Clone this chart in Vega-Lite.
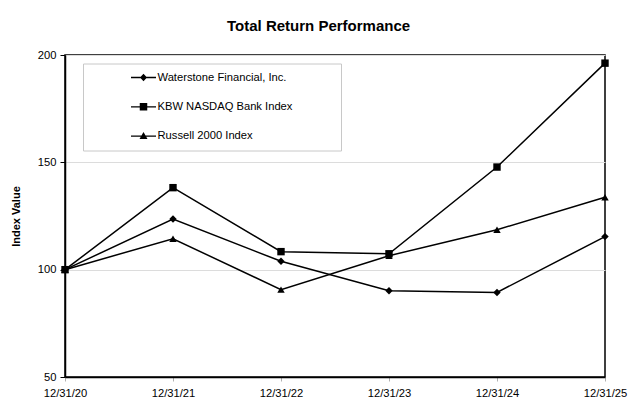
{
  "$schema": "https://vega.github.io/schema/vega-lite/v6.json",
  "autosize": {"type": "none"},
  "padding": {"left": 65, "top": 55, "right": 30, "bottom": 35},
  "width": 540,
  "height": 322,
  "background": "white",
  "title": {
    "text": "Total Return Performance",
    "font": "Liberation Sans",
    "fontSize": 15,
    "fontWeight": "bold",
    "color": "black",
    "anchor": "middle",
    "frame": "bounds",
    "offset": 15
  },
  "config": {
    "font": "Liberation Sans",
    "view": {"stroke": "black", "strokeWidth": 1.5},
    "axis": {"labelFont": "Liberation Sans", "labelFontSize": 11.2, "labelColor": "black", "titleFont": "Liberation Sans", "titleColor": "black"}
  },
  "data": {
    "values": [
      {"date": "12/31/20", "series": "Waterstone Financial, Inc.", "value": 100},
      {"date": "12/31/21", "series": "Waterstone Financial, Inc.", "value": 123.6},
      {"date": "12/31/22", "series": "Waterstone Financial, Inc.", "value": 103.9},
      {"date": "12/31/23", "series": "Waterstone Financial, Inc.", "value": 90.2},
      {"date": "12/31/24", "series": "Waterstone Financial, Inc.", "value": 89.4},
      {"date": "12/31/25", "series": "Waterstone Financial, Inc.", "value": 115.4},
      {"date": "12/31/20", "series": "KBW NASDAQ Bank Index", "value": 100},
      {"date": "12/31/21", "series": "KBW NASDAQ Bank Index", "value": 138.2},
      {"date": "12/31/22", "series": "KBW NASDAQ Bank Index", "value": 108.4},
      {"date": "12/31/23", "series": "KBW NASDAQ Bank Index", "value": 107.4},
      {"date": "12/31/24", "series": "KBW NASDAQ Bank Index", "value": 147.8},
      {"date": "12/31/25", "series": "KBW NASDAQ Bank Index", "value": 196.2},
      {"date": "12/31/20", "series": "Russell 2000 Index", "value": 100},
      {"date": "12/31/21", "series": "Russell 2000 Index", "value": 114.4},
      {"date": "12/31/22", "series": "Russell 2000 Index", "value": 90.7},
      {"date": "12/31/23", "series": "Russell 2000 Index", "value": 106.5},
      {"date": "12/31/24", "series": "Russell 2000 Index", "value": 118.6},
      {"date": "12/31/25", "series": "Russell 2000 Index", "value": 133.7}
    ]
  },
  "encoding": {
    "x": {
      "field": "date",
      "type": "ordinal",
      "scale": {"type": "point", "padding": 0},
      "axis": {
        "title": null,
        "labelAngle": 0,
        "labelPadding": 6,
        "tickSize": 4,
        "tickColor": "#b0b0b0",
        "domainColor": "black",
        "domainWidth": 1.5,
        "grid": false
      }
    },
    "y": {
      "field": "value",
      "type": "quantitative",
      "scale": {"domain": [50, 200], "nice": false, "zero": false},
      "axis": {
        "title": "Index Value",
        "titleFontSize": 11,
        "titleFontWeight": "bold",
        "titlePadding": 16,
        "values": [50, 100, 150, 200],
        "tickSize": 5,
        "tickColor": "black",
        "labelPadding": 4,
        "domainColor": "black",
        "domainWidth": 1.5,
        "grid": true,
        "gridColor": "#dcdcdc",
        "gridWidth": 1
      }
    }
  },
  "layer": [
    {
      "mark": {"type": "line", "color": "black", "strokeWidth": 1.5},
      "encoding": {"detail": {"field": "series", "type": "nominal"}}
    },
    {
      "mark": {"type": "point", "filled": true, "color": "black", "size": 55, "opacity": 1},
      "encoding": {
        "shape": {
          "field": "series",
          "type": "nominal",
          "scale": {
            "domain": ["Waterstone Financial, Inc.", "KBW NASDAQ Bank Index", "Russell 2000 Index"],
            "range": ["diamond", "square", "triangle-up"]
          },
          "legend": null
        }
      }
    },
    {
      "mark": {"type": "point", "filled": true, "color": "black", "opacity": 0},
      "encoding": {
        "shape": {
          "field": "series",
          "type": "nominal",
          "scale": {
            "domain": ["Waterstone Financial, Inc.", "KBW NASDAQ Bank Index", "Russell 2000 Index"],
            "range": [
              "M-2.5,-0.13L2.5,-0.13L2.5,0.13L-2.5,0.13ZM0,-0.75L0.7,0L0,0.75L-0.7,0Z",
              "M-2.5,-0.13L2.5,-0.13L2.5,0.13L-2.5,0.13ZM-0.75,-0.75L0.75,-0.75L0.75,0.75L-0.75,0.75Z",
              "M-2.5,-0.13L2.5,-0.13L2.5,0.13L-2.5,0.13ZM0,-0.8L0.8,0.6L-0.8,0.6Z"
            ]
          },
          "legend": {
            "title": null,
            "orient": "none",
            "legendX": 18,
            "legendY": 8.5,
            "padding": 8,
            "strokeColor": "#c8c8c8",
            "fillColor": "white",
            "symbolSize": 100,
            "symbolOffset": 46.5,
            "symbolFillColor": "black",
            "labelOffset": 8,
            "rowPadding": 15.3,
            "labelFont": "Liberation Sans",
            "labelFontSize": 11.2,
            "labelColor": "black",
            "labelLimit": 400,
            "labelExpr": "datum.label + '\u00a0\u00a0\u00a0\u00a0\u00a0\u00a0\u00a0\u00a0\u00a0\u00a0\u00a0\u00a0\u00a0\u200b'",
            "encode": {
              "symbols": {
                "update": {
                  "opacity": {"value": 1},
                  "fill": {"value": "black"},
                  "fillOpacity": {"value": 1}
                }
              }
            }
          }
        }
      }
    }
  ],
  "resolve": {"scale": {"shape": "independent"}, "legend": {"shape": "independent"}}
}
